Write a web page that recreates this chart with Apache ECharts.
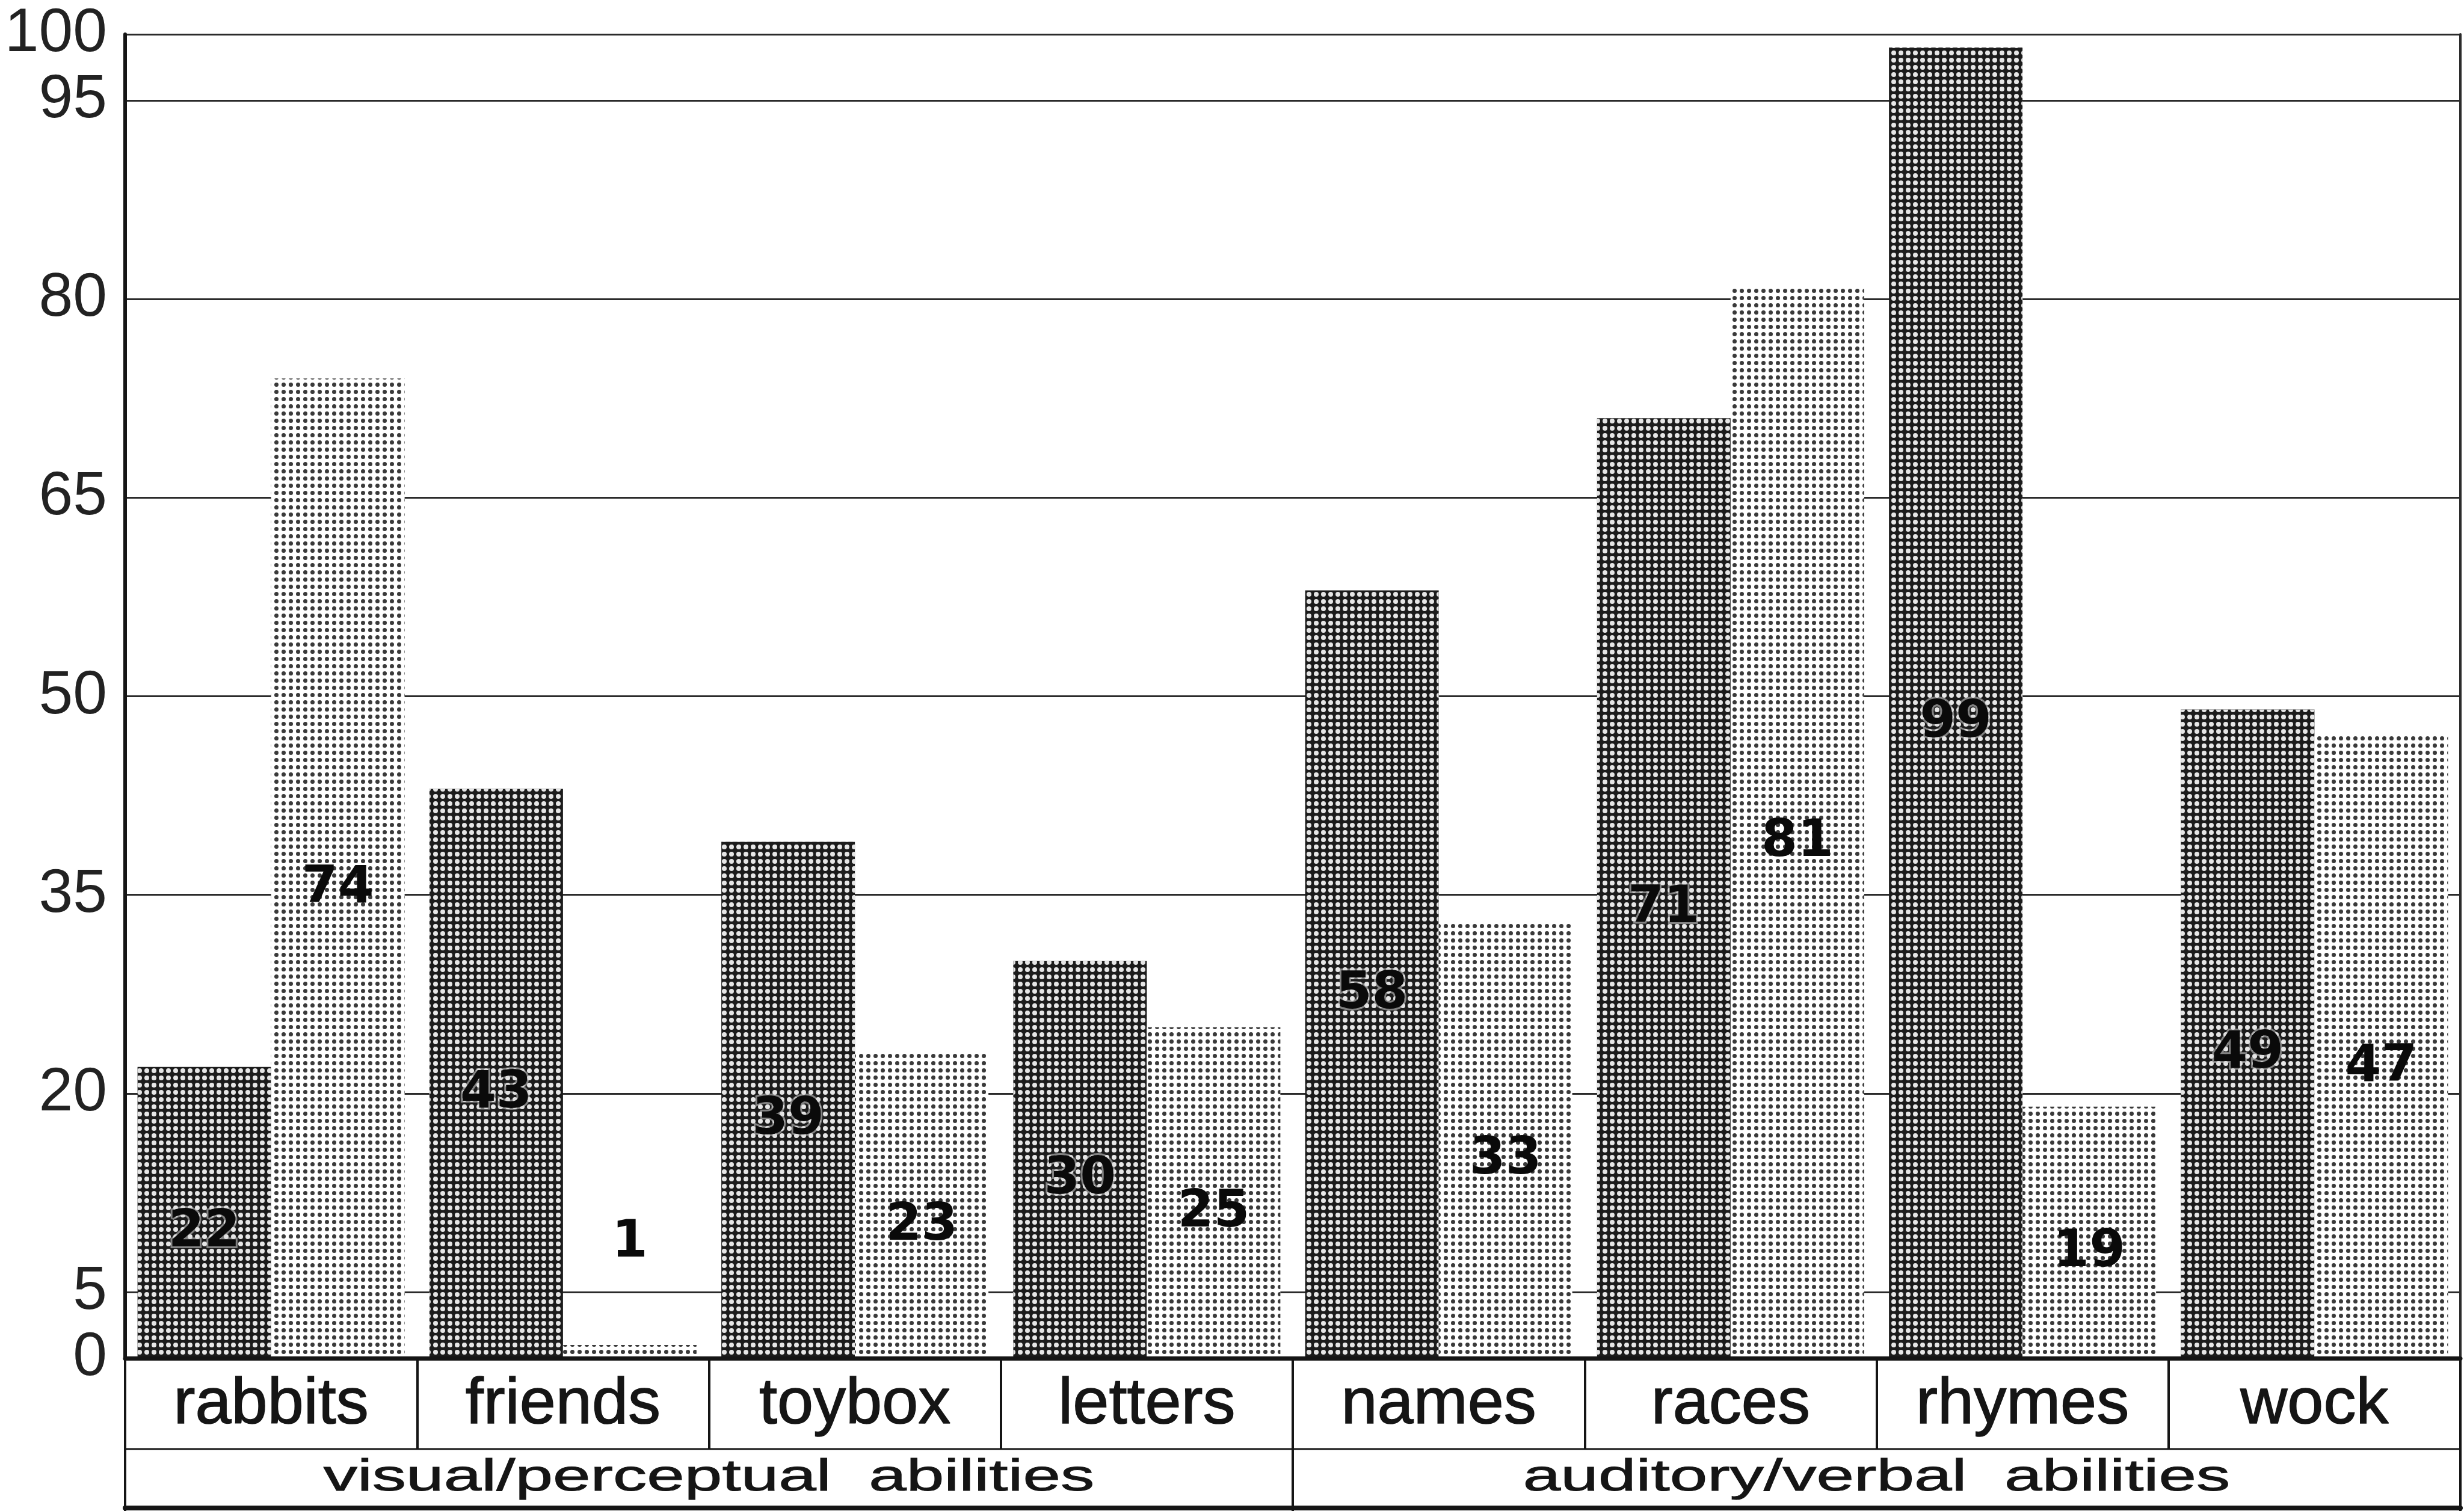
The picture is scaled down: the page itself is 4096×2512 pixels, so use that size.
<!DOCTYPE html>
<html>
<head>
<meta charset="utf-8">
<script src="https://cdn.jsdelivr.net/npm/echarts@6/dist/echarts.min.js"></script>
<style>
  html, body { margin: 0; padding: 0; background: #ffffff; }
  #chart { width: 4096px; height: 2512px; }
</style>
</head>
<body>
<div id="chart"></div>
<script>
// Task scores per item, two bars per item
const categories = ['rabbits', 'friends', 'toybox', 'letters', 'names', 'races', 'rhymes', 'wock'];
const groups = ['visual/perceptual  abilities', 'auditory/verbal  abilities'];
const firstScores = [22, 43, 39, 30, 58, 71, 99, 49];
const secondScores = [74, 1, 23, 25, 33, 81, 19, 47];
const yTickValues = [0, 5, 20, 35, 50, 65, 80, 95, 100];

// layout
const PLOT = { left: 208, right: 6, top: 57, bottom: 254 };
const ROW1 = 151;   // height of the item-name row under the plot
const ROW2 = 98;    // height of the ability-group row
const INK = '#151515';

const chart = echarts.init(document.getElementById('chart'), null, { renderer: 'canvas' });

// bars too short to hold their value get it written above them
function barData(values) {
  return values.map(v => v < 4
    ? { value: v, label: { position: 'top', distance: 126, offset: [0, 0] } }
    : v);
}

const valueLabel = {
  show: true,
  position: 'inside',
  offset: [0, 34],
  fontFamily: 'DejaVu Sans',
  fontWeight: 'bold',
  fontSize: 86,
  color: '#0a0a0a'
};

const H = 2512;
const groupRowTop = H - PLOT.bottom + ROW1;

const option = {
  backgroundColor: '#ffffff',
  animation: false,
  grid: [
    { left: PLOT.left, right: PLOT.right, top: PLOT.top, bottom: PLOT.bottom, containLabel: false },
    // the ability-group row of the table under the plot
    { left: PLOT.left, right: PLOT.right, top: groupRowTop, height: ROW2, containLabel: false,
      show: true, borderColor: INK, borderWidth: 3, backgroundColor: 'transparent' }
  ],
  xAxis: [
    {
      type: 'category',
      gridIndex: 0,
      data: categories,
      position: 'bottom',
      boundaryGap: true,
      z: 5,
      axisLine: { show: true, lineStyle: { color: INK, width: 7 } },
      axisTick: { show: true, inside: false, length: ROW1, lineStyle: { color: INK, width: 4 } },
      axisLabel: {
        show: true, margin: 78, verticalAlign: 'middle',
        fontFamily: 'Liberation Sans', fontSize: 108, color: INK,
        textBorderColor: INK, textBorderWidth: 1.5
      },
      splitLine: { show: false }
    },
    {
      type: 'category',
      gridIndex: 1,
      data: groups,
      position: 'top',
      boundaryGap: true,
      z: 5,
      axisLine: { show: true, lineStyle: { color: INK, width: 8 } },
      axisTick: { show: true, inside: true, length: ROW2, lineStyle: { color: INK, width: 4 } },
      axisLabel: { show: false },
      splitLine: { show: true, lineStyle: { color: INK, width: 4 } }
    }
  ],
  yAxis: [
    {
      type: 'value',
      gridIndex: 0,
      min: 0,
      max: 100,
      interval: 5,
      axisLine: { show: true, lineStyle: { color: INK, width: 6 } },
      axisTick: { show: false, customValues: yTickValues },
      axisLabel: {
        customValues: yTickValues,
        margin: 30,
        fontFamily: 'Liberation Sans', fontSize: 102, color: '#222222'
      },
      splitLine: { show: true, lineStyle: { color: '#2b2b2b', width: 3 } }
    },
    {
      type: 'value',
      gridIndex: 0,
      min: 0,
      max: 100,
      position: 'right',
      axisLine: { show: true, lineStyle: { color: '#2b2b2b', width: 4 } },
      axisTick: { show: false },
      axisLabel: { show: false },
      splitLine: { show: false }
    },
    {
      type: 'value',
      gridIndex: 1,
      min: 0,
      max: 1,
      show: false
    }
  ],
  series: [
    {
      type: 'bar',
      name: 'first',
      xAxisIndex: 0,
      yAxisIndex: 0,
      data: barData(firstScores),
      barGap: '0%',
      barCategoryGap: '8.5%',
      itemStyle: {
        color: '#1c1c1c',
        decal: {
          symbol: 'circle', symbolSize: 1, symbolKeepAspect: true,
          color: '#e6e6e6',
          dashArrayX: [8, 4], dashArrayY: [8, 4]
        }
      },
      label: Object.assign({}, valueLabel, {
        textBorderColor: 'rgba(215,215,215,0.55)', textBorderWidth: 6
      })
    },
    {
      type: 'bar',
      name: 'second',
      xAxisIndex: 0,
      yAxisIndex: 0,
      data: barData(secondScores),
      itemStyle: {
        color: '#ffffff',
        decal: {
          symbol: 'circle', symbolSize: 1, symbolKeepAspect: true,
          color: '#3a3a3a',
          dashArrayX: [7, 5], dashArrayY: [7, 5]
        }
      },
      label: valueLabel
    }
  ]
};

chart.setOption(option);

// ability-group names, set in a wide face centred under their item spans
chart.setOption({
  graphic: groups.map((g, i) => ({
    type: 'text',
    x: chart.convertToPixel({ xAxisIndex: 1 }, i),
    y: groupRowTop + ROW2 / 2,
    scaleX: 1.52,
    silent: true,
    style: {
      text: g,
      fontFamily: 'Liberation Sans',
      fontSize: 74,
      fill: INK,
      stroke: INK,
      lineWidth: 1,
      align: 'center',
      verticalAlign: 'middle',
      textAlign: 'center',
      textVerticalAlign: 'middle'
    }
  }))
});
</script>
</body>
</html>
